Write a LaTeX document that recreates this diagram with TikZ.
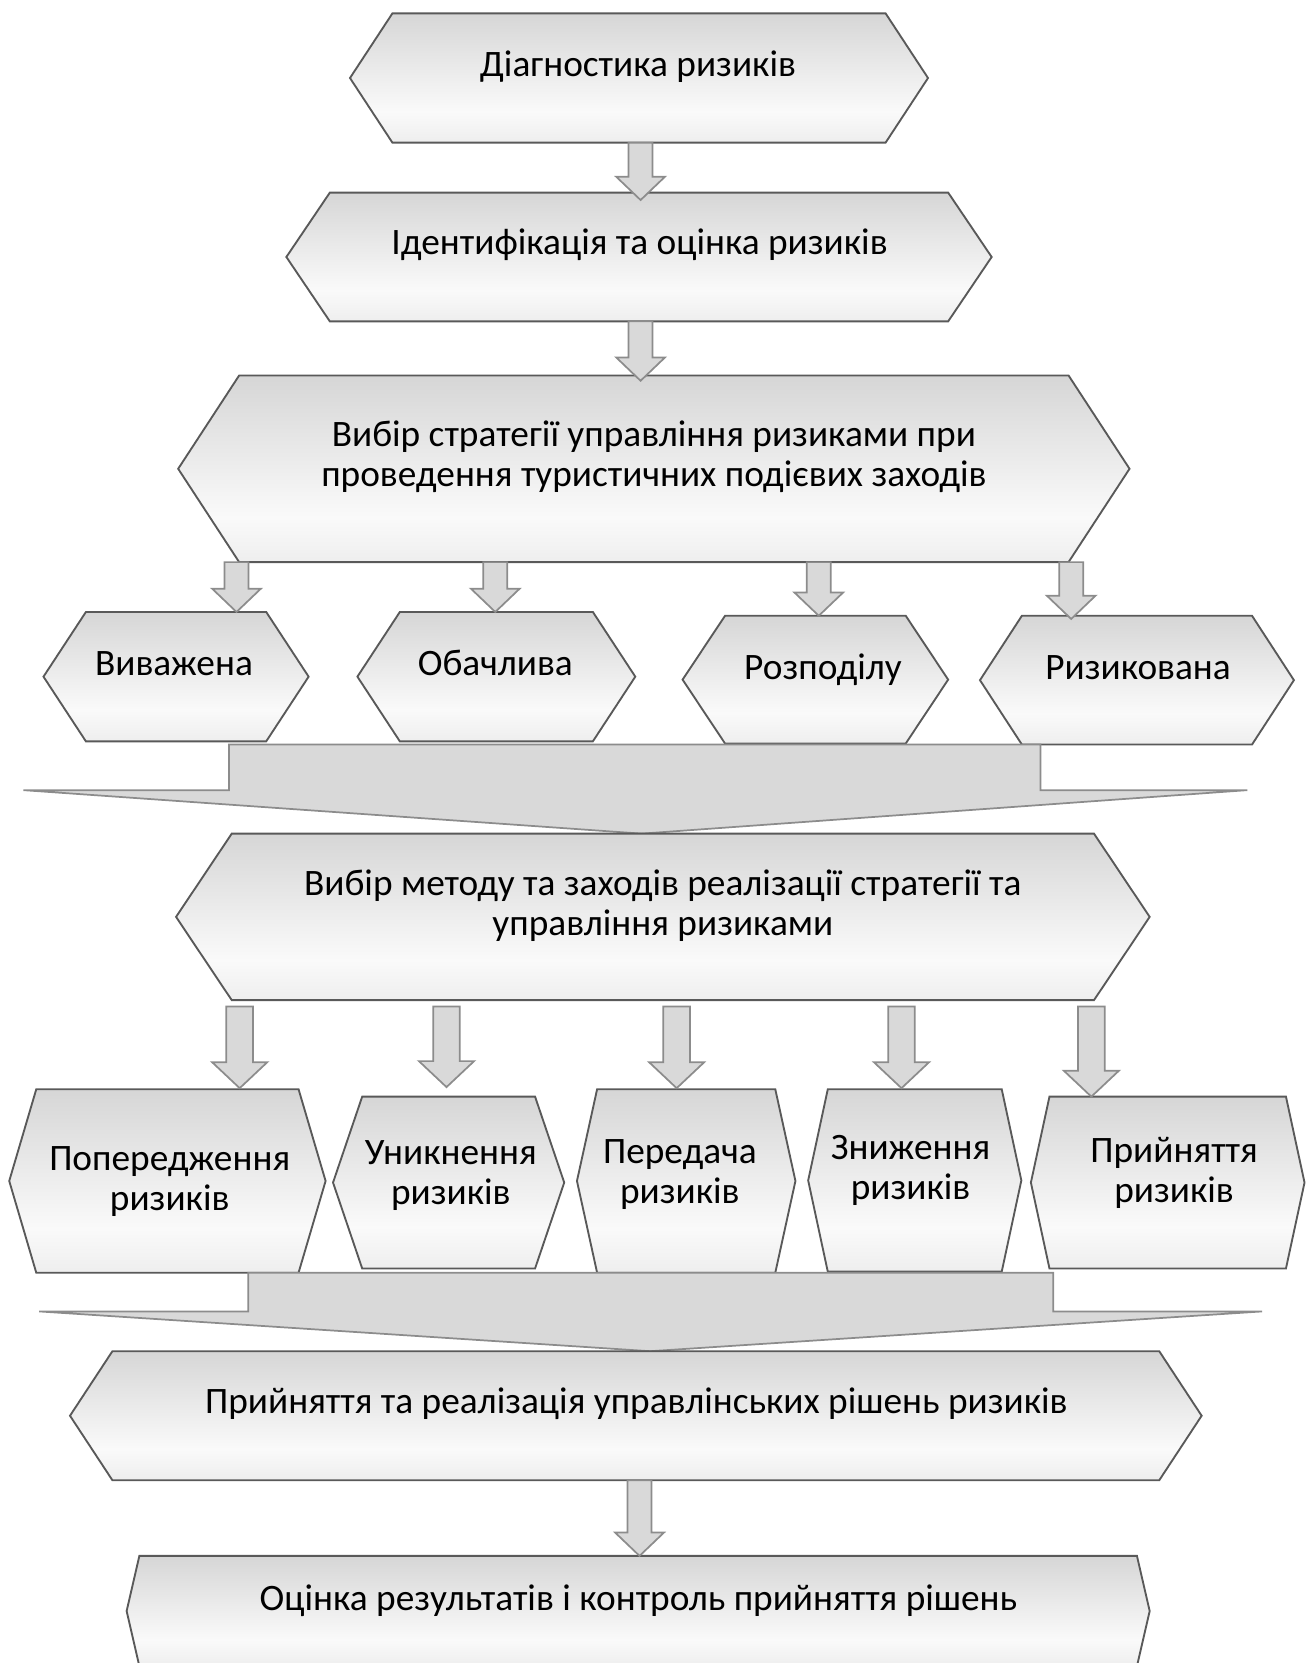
\documentclass[tikz,border=0pt]{standalone}
\usepackage{fontspec}
\setmainfont{Carlito}
\usetikzlibrary{fit,calc}
\definecolor{hexborder}{HTML}{595959}
\definecolor{htop}{HTML}{D6D6D6}
\definecolor{hlite}{HTML}{FAFAFA}
\definecolor{hbot}{HTML}{EEEEEE}
\definecolor{arfill}{HTML}{D9D9D9}
\definecolor{arline}{HTML}{8C8C8C}
\pgfdeclareverticalshading{hexshade}{100bp}{color(0bp)=(hbot); color(25bp)=(hbot); color(37bp)=(hlite); color(75bp)=(htop); color(100bp)=(htop)}
\tikzset{
  hexshape/.style={shade, shading=hexshade, draw=hexborder, line width=1.4pt, line join=miter},
  hextext/.style={inner sep=0pt, align=center, font=\fontsize{28}{30}\selectfont, text=black},
  boxframe/.style={inner sep=0pt, outer sep=0pt},
  blockarrow/.style={fill=arfill, draw=arline, line width=1.3pt, line join=miter},
  mergearrow/.style={fill=arfill, draw=arline, line width=1.3pt, line join=miter}
}
% #1 name, #2 left, #3 right, #4 top, #5 bottom, #6 inset, #7 text x, #8 text y, #9 text
\newcommand\hexbox[9]{%
  \path[hexshape] (#2,{(#4+#5)/2}) -- (#2+#6,#4) -- (#3-#6,#4) -- (#3,{(#4+#5)/2}) -- (#3-#6,#5) -- (#2+#6,#5) -- cycle;
  \node[boxframe, fit={(#2,#4) (#3,#5)}] (#1) {};
  \node[hextext] (#1-t) at (#7,#8) {#9};
}
% #1 source, #2 target, #3 x, #4 start offset, #5 end offset
\newcommand\barrow[5]{%
  \path[blockarrow] let \p1=(#1.south), \p2=(#2.north), \p3=(#3,#4), \p4=(0,#5) in
    (\x3-\arSW,\y1+\y3) -- (\x3+\arSW,\y1+\y3) -- (\x3+\arSW,\y2+\y4+\arHL) --
    (\x3+\arHW,\y2+\y4+\arHL) -- (\x3,\y2+\y4) -- (\x3-\arHW,\y2+\y4+\arHL) --
    (\x3-\arSW,\y2+\y4+\arHL) -- cycle;%
}
\begin{document}
\begin{tikzpicture}[x=0.7957pt, y=-0.7957pt]
\useasboundingbox (0,0) rectangle (1231,1568);

\hexbox{b1}{330}{875}{12.6}{134.5}{40}{601.5}{64.5}{\strut Діагностика ризиків}
\hexbox{b2}{270}{935}{181.6}{303}{41}{603}{232}{\strut Ідентифікація та оцінка ризиків}
\hexbox{b3}{168}{1065}{354}{530}{57.5}{616.5}{432}{\strut Вибір стратегії управління ризиками при\\\strut проведення туристичних подієвих заходів}

\hexbox{v1}{41}{291}{577}{699}{40}{164}{629}{\strut Виважена}
\hexbox{v2}{337}{599}{577}{699}{40}{467}{629}{\strut Обачлива}
\hexbox{v3}{643.6}{894}{580.6}{701}{40}{776}{633.5}{\strut Розподілу}
\hexbox{v4}{924}{1220}{580.6}{702}{39.5}{1073}{633.5}{\strut Ризикована}

\path[mergearrow] (216,702) -- (981,702) -- (981,745) -- (1176,745) -- (605,786) -- (22,745) -- (216,745) -- cycle;

\hexbox{b5}{166}{1084}{786}{943}{52.5}{625}{856}{\strut Вибір методу та заходів реалізації стратегії та\\\strut управління ризиками}

\hexbox{p1}{8.7}{307}{1027}{1200}{25.5}{160}{1114.5}{\strut Попередження\\\strut ризиків}
\hexbox{p2}{314}{532}{1034}{1196}{27.5}{425}{1109}{\strut Уникнення\\\strut ризиків}
\hexbox{p3}{544}{750}{1027}{1200}{19}{641}{1108}{\strut Передача\\\strut ризиків}
\hexbox{p4}{762}{963}{1027}{1199}{18.5}{858.5}{1105}{\strut Зниження\\\strut ризиків}
\hexbox{p5}{972}{1230}{1034}{1196}{17.5}{1107}{1107}{\strut Прийняття\\\strut ризиків}

\path[mergearrow] (234,1200) -- (993,1200) -- (993,1236.5) -- (1190,1236.5) -- (613,1274) -- (37,1236.5) -- (234,1236.5) -- cycle;

\hexbox{b7}{66}{1133}{1274}{1395.7}{40}{600}{1325}{\strut Прийняття та реалізація управлінських рішень ризиків}
\hexbox{b8}{119.4}{1084}{1467}{1571}{12}{602}{1511}{\strut Оцінка результатів і контроль прийняття рішень}

\def\arSW{9pt}\def\arHW{18.3pt}\def\arHL{17.5pt}
\barrow{b1}{b2}{604}{0}{7}
\barrow{b2}{b3}{604}{0}{5}
\barrow{b3}{v1}{223}{0}{0}
\barrow{b3}{v2}{467}{0}{0}
\barrow{b3}{v3}{772}{0}{0}
\barrow{b3}{v4}{1010}{0}{3}
\barrow{b7}{b8}{603}{0}{0}
\def\arSW{10pt}\def\arHW{20.7pt}\def\arHL{19.5pt}
\barrow{b5}{p1}{226}{6}{-1}
\barrow{b5}{p2}{421}{6}{-9}
\barrow{b5}{p3}{638}{6}{-1}
\barrow{b5}{p4}{850}{6}{-1}
\barrow{b5}{p5}{1029}{6}{0}
\end{tikzpicture}
\end{document}
